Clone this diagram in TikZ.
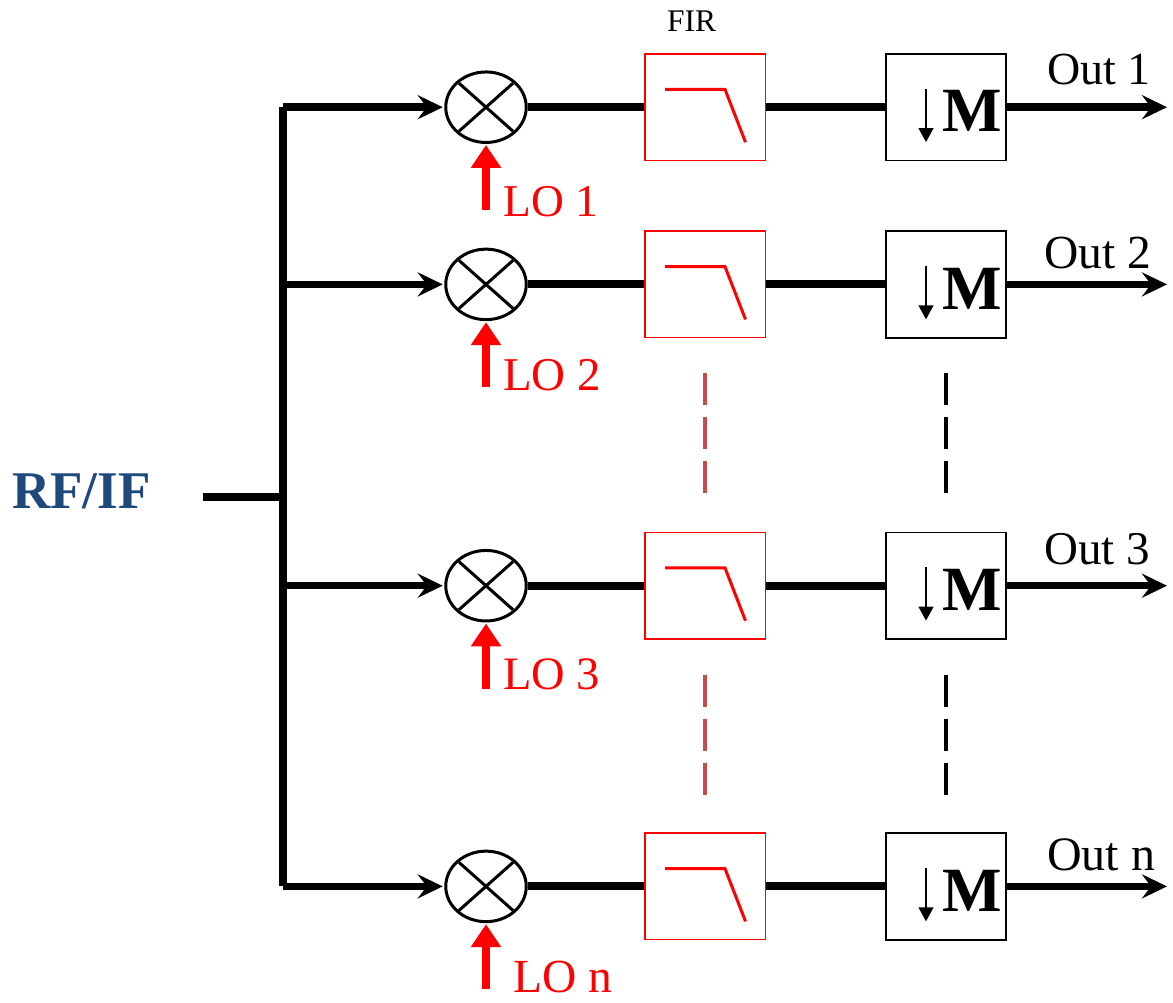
\documentclass[tikz,border=0pt]{standalone}
\usepackage{fontspec}
\setmainfont{Liberation Serif}
\usetikzlibrary{arrows.meta,shapes.geometric}
\definecolor{rfblue}{HTML}{1F497D}
\definecolor{dashred}{HTML}{C0504D}
\tikzset{
  mixer/.style={draw=black,line width=3pt,ellipse,minimum width=80.5pt,minimum height=70.5pt,inner sep=0pt,fill=white},
  firbox/.style={draw=red,line width=1.5pt,minimum width=120.5pt,minimum height=106.5pt,inner sep=0pt,fill=white},
  decbox/.style={draw=black,line width=1.7pt,minimum width=120.5pt,minimum height=106.5pt,inner sep=0pt,fill=white},
  wire/.style={line width=8pt},
  sigarrow/.style={line width=7.5pt,-{Stealth[length=25pt,width=24pt,inset=9pt]}},
  loarrow/.style={draw=red,line width=8pt,-{Triangle[length=23pt,width=29pt]}},
  lolabel/.style={text=red,anchor=base west,inner sep=0pt},
  outlabel/.style={text=black,anchor=base west,inner sep=0pt},
  mlabel/.style={font=\fontsize{63}{63}\selectfont\bfseries,anchor=base west,inner sep=0pt},
  gaps/.style={line width=4pt,dash pattern=on 32pt off 12pt},
}
\begin{document}
\begin{tikzpicture}[x=1pt,y=-1pt]
\useasboundingbox (0,0) rectangle (1173,1003);
% input
\node[font=\fontsize{53}{53}\selectfont\bfseries,text=rfblue,anchor=base west,inner sep=0pt] (rf) at (12,508) {RF/IF};
\coordinate (tap) at (283,497);
\coordinate (start) at (202.5,497);
\coordinate (top) at (282.7,107);
\coordinate (bot) at (282.7,886);
\draw[wire] (top) -- (bot);
\draw[wire] (start) -- (tap);
\node[font=\fontsize{31.5}{31.5}\selectfont,anchor=base west,inner sep=0pt] (firlabel) at (667,31.5) {FIR};
% rows: id / y / LO text / LO x / LO baseline / LO size / Out text / Out x / Out baseline / Out size
\foreach \id/\r/\lo/\lox/\loy/\los/\ou/\oux/\ouy/\ous in {
  a/107.2/LO 1/503/216.7/45.5/Out 1/1047/84.5/46,
  b/284.4/LO 2/503/390.5/47/Out 2/1044/268.5/47.5,
  c/585.7/LO 3/503/689/46.5/Out 3/1044/564.5/47,
  d/886.4/LO n/513.5/992.7/47.5/Out n/1047/870.7/48}{
  \coordinate (j\id) at (283,\r);
  \node[mixer] (m\id) at (486,\r) {};
  \node[firbox] (f\id) at (705.2,\r) {};
  \node[decbox] (g\id) at (946,\r) {};
  \coordinate (e\id) at (1167,\r);
  \coordinate (l\id) at (486,\r+103);
  \draw[sigarrow,shorten >=1.5pt] (j\id) -- (m\id.west);
  \draw[wire] (m\id) -- (f\id);
  \draw[wire] (f\id) -- (g\id);
  \draw[sigarrow] (g\id) -- (e\id);
  \coordinate (xa\id) at (486-27,\r-24);
  \coordinate (xb\id) at (486+27,\r+24);
  \coordinate (xc\id) at (486+27,\r-24);
  \coordinate (xd\id) at (486-27,\r+24);
  \draw[line width=3pt] (xa\id) -- (xb\id) (xc\id) -- (xd\id);
  \draw[loarrow,shorten >=1pt] (l\id) -- (m\id.south);
  \coordinate (fa\id) at (665,\r-17.8);
  \coordinate (fb\id) at (725,\r-17.8);
  \coordinate (fc\id) at (745.5,\r+35);
  \draw[red,line width=3pt] (fa\id) -- (fb\id) -- (fc\id);
  \coordinate (da\id) at (926,\r-18.5);
  \coordinate (db\id) at (926,\r+35);
  \draw[line width=2.5pt,-{Triangle[length=14pt,width=14.5pt]}] (da\id) -- (db\id);
  \node[mlabel] (ml\id) at (942.5,\r+24.7) {M};
  \node[lolabel,font=\fontsize{\los}{\los}\selectfont] (lt\id) at (\lox,\loy) {\lo};
  \node[outlabel,font=\fontsize{\ous}{\ous}\selectfont] (ot\id) at (\oux,\ouy) {\ou};
}
% continuation dashes
\coordinate (p1) at (705.2,373); \coordinate (p2) at (705.2,493);
\coordinate (p3) at (705.2,674.5); \coordinate (p4) at (705.2,794.5);
\coordinate (q1) at (946.3,373); \coordinate (q2) at (946.3,493);
\coordinate (q3) at (946.3,674.5); \coordinate (q4) at (946.3,794.5);
\draw[gaps,dashred] (p1) -- (p2);
\draw[gaps,dashred] (p3) -- (p4);
\draw[gaps] (q1) -- (q2);
\draw[gaps] (q3) -- (q4);
\end{tikzpicture}
\end{document}
